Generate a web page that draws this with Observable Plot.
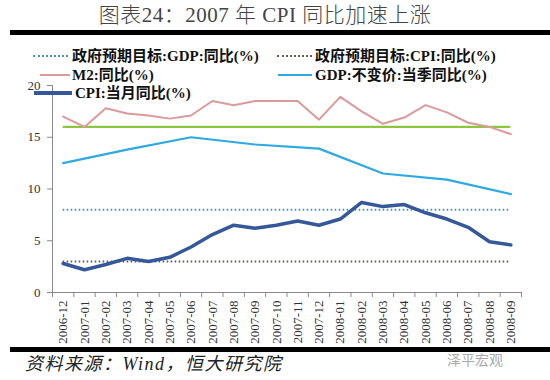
<!DOCTYPE html>
<html>
<head>
<meta charset="utf-8">
<script src="https://cdn.jsdelivr.net/npm/d3@7"></script>
<script src="https://cdn.jsdelivr.net/npm/@observablehq/plot@0.6"></script>
<style>
  body { margin: 0; background: #fff; }
  #wrap { position: relative; width: 550px; height: 380px; overflow: hidden; background: #fff; }
  #chart { position: absolute; left: 0; top: 0; }
  .abs { position: absolute; white-space: nowrap; }
  .title { left: 0; width: 530px; top: 4px; text-align: center; font-family: "Liberation Serif", "Noto Sans CJK SC", serif; font-size: 21px; line-height: 22px; font-weight: 300; color: #444; letter-spacing: 0.5px; }
  .rule { left: 10px; right: 0; height: 5px; background: #000; }
  .lg { font-family: "Liberation Serif", "Noto Sans CJK SC", serif; font-weight: bold; font-size: 15px; line-height: 16px; color: #111; }
  .ls { height: 0; }
  .cap { left: 25px; top: 354px; font-family: "Liberation Serif", "Noto Sans CJK SC", serif; font-style: italic; font-size: 18px; line-height: 20px; color: #222; letter-spacing: 1.5px; }
  .wm { left: 447px; top: 349px; font-family: "Noto Sans CJK SC", sans-serif; font-size: 14px; color: #aaa; }
</style>
</head>
<body>
<div id="wrap">
  <div id="chart"></div>
  <div class="abs title">图表24：2007 年 CPI 同比加速上涨</div>
  <div class="abs rule" style="top:30px"></div>

  <div class="abs ls" style="left:33px;width:35px;top:55px;border-top:2px dotted #4f8fc0"></div>
  <div class="abs lg" style="left:72px;top:48px">政府预期目标:GDP:同比(%)</div>
  <div class="abs ls" style="left:277px;width:35px;top:55px;border-top:2px dotted #5f5f50"></div>
  <div class="abs lg" style="left:315px;top:48px">政府预期目标:CPI:同比(%)</div>

  <div class="abs ls" style="left:40px;width:30px;top:74px;border-top:2px solid #dc9a9a"></div>
  <div class="abs lg" style="left:72px;top:67px">M2:同比(%)</div>
  <div class="abs ls" style="left:278px;width:34px;top:74px;border-top:2px solid #2eaae1"></div>
  <div class="abs lg" style="left:315px;top:67px">GDP:不变价:当季同比(%)</div>

  <div class="abs ls" style="left:34px;width:38px;top:91px;border-top:4px solid #34589a"></div>
  <div class="abs lg" style="left:75px;top:85px">CPI:当月同比(%)</div>

  <div class="abs rule" style="top:347px"></div>
  <div class="abs cap">资料来源：Wind，恒大研究院</div>
  <div class="abs wm">泽平宏观</div>
</div>
<script>
// ---- data ----
const months = ["2006-12","2007-01","2007-02","2007-03","2007-04","2007-05","2007-06","2007-07","2007-08","2007-09","2007-10","2007-11","2007-12","2008-01","2008-02","2008-03","2008-04","2008-05","2008-06","2008-07","2008-08","2008-09"];
const cpi = [2.8,2.2,2.7,3.3,3.0,3.4,4.4,5.6,6.5,6.2,6.5,6.9,6.5,7.1,8.7,8.3,8.5,7.7,7.1,6.3,4.9,4.6];
const m2 = [17.0,16.0,17.8,17.3,17.1,16.8,17.1,18.5,18.1,18.5,18.5,18.5,16.7,18.9,17.5,16.3,16.9,18.1,17.4,16.4,16.0,15.3];
const gdpMonths = ["2006-12","2007-03","2007-06","2007-09","2007-12","2008-03","2008-06","2008-09"];
const gdp = [12.5,13.8,15.0,14.3,13.9,11.5,10.9,9.5];
const targetGDP = 8;
const targetCPI = 3;
const targetM2 = 16;
const yTicks = [0,5,10,15,20];

// ---- build ----
const pos = m => months.indexOf(m) + 0.5;
const monthly = months.map((m, i) => ({x: pos(m), cpi: cpi[i], m2: m2[i]}));
const quarterly = gdpMonths.map((m, i) => ({x: pos(m), v: gdp[i]}));
const x1 = pos(months[0]), x2 = pos(months[months.length - 1]);
const bounds = d3.range(0, months.length + 1);
const centers = months.map(pos);

const chart = Plot.plot({
  width: 550,
  height: 380,
  marginTop: 85,
  marginBottom: 88,
  marginLeft: 52,
  marginRight: 29,
  x: {domain: [0, months.length], axis: null, label: null},
  y: {domain: [0, 20], axis: null, label: null},
  style: {background: "transparent", fontFamily: "'Liberation Serif', serif"},
  marks: [
    Plot.ruleX([0], {stroke: "#8a8a8a"}),
    Plot.ruleY([0], {stroke: "#8a8a8a"}),
    Plot.axisY(yTicks, {tickSize: 5, tickPadding: 7, fontSize: 13, stroke: "#8a8a8a", fill: "#333", label: null}),
    Plot.axisX(bounds, {tickSize: 5, tickFormat: () => "", stroke: "#8a8a8a", label: null}),
    Plot.axisX(centers, {tickSize: 0, tickPadding: 8, tickRotate: -90, fontSize: 13, fill: "#333", label: null,
      tickFormat: v => months[Math.floor(v)]}),
    Plot.ruleY([targetGDP], {x1, x2, stroke: "#4f8fc0", strokeWidth: 2, strokeDasharray: "1.6,2.4"}),
    Plot.ruleY([targetCPI], {x1, x2, stroke: "#5f5f50", strokeWidth: 2, strokeDasharray: "1.6,2.4"}),
    Plot.ruleY([targetM2], {x1, x2, stroke: "#8dc63f", strokeWidth: 2.4}),
    Plot.line(monthly, {x: "x", y: "m2", stroke: "#dc9a9a", strokeWidth: 2}),
    Plot.line(quarterly, {x: "x", y: "v", stroke: "#2eaae1", strokeWidth: 2.2}),
    Plot.line(monthly, {x: "x", y: "cpi", stroke: "#34589a", strokeWidth: 3.5})
  ]
});
document.getElementById("chart").appendChild(chart);
</script>
</body>
</html>
